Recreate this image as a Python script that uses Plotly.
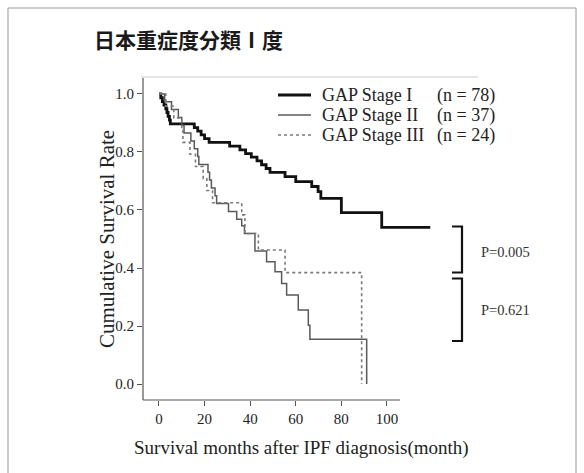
import plotly.graph_objects as go

# ---------------- data ----------------
stage1_t = [0, 0.8, 1.5, 2.2, 3.0, 3.5, 4.0, 4.6, 5.0, 15.5, 17, 18.5, 20, 22, 31, 35.5,
            38, 40.5, 43, 45, 47, 48.7, 55.3, 60, 67, 69.8, 71, 80, 97.7, 119]
stage1_s = [1.0, 0.987, 0.974, 0.962, 0.949, 0.936, 0.923, 0.910, 0.897, 0.884, 0.872, 0.859,
            0.846, 0.833, 0.820, 0.807, 0.794, 0.782, 0.769, 0.756, 0.743, 0.730, 0.715, 0.698,
            0.681, 0.663, 0.640, 0.591, 0.540, 0.540]

stage2_t = [0, 2.5, 5.5, 8.5, 10, 11, 14, 15.5, 17, 17.5, 21.5, 22.2, 23, 24.6, 25.3, 30.5,
            34.1, 36.3, 37.5, 42.1, 47.2, 50.9, 53.8, 56, 61.1, 65.5, 66.2, 91.1]
stage2_s = [1.0, 0.973, 0.946, 0.919, 0.892, 0.865, 0.838, 0.811, 0.784, 0.757, 0.730, 0.703,
            0.676, 0.649, 0.622, 0.595, 0.568, 0.546, 0.519, 0.459, 0.422, 0.387, 0.347, 0.307,
            0.255, 0.203, 0.154, 0.0]

stage3_t = [0, 3, 6.5, 10, 10.5, 13.6, 16, 19.4, 21, 23.5, 36.3, 37.7, 43.6, 55.3, 88.9]
stage3_s = [1.0, 0.958, 0.917, 0.875, 0.833, 0.792, 0.750, 0.708, 0.667, 0.625, 0.583, 0.519,
            0.462, 0.384, 0.0]

series_names = ["GAP Stage I", "GAP Stage II", "GAP Stage III"]
series_n = ["(n = 78)", "(n = 37)", "(n = 24)"]
p_values = ["P=0.005", "P=0.621"]
x_ticks = [0, 20, 40, 60, 80, 100]
y_ticks = [0.0, 0.2, 0.4, 0.6, 0.8, 1.0]

title_text = "日本重症度分類Ⅰ度"
x_title = "Survival months after IPF diagnosis(month)"
y_title = "Cumulative Survival Rate"

# ---------------- layout geometry ----------------
W, H = 584, 473
L, R, T, B = 143, 435, 78, 400
XR = [-7, -7 + (R - L) / 2.28]
YR = [-0.055, 1.055]

def px(xp):
    return (xp - L) / (R - L)

def py(yp):
    return (B - yp) / (B - T)

SERIF = "Liberation Serif, Times New Roman, serif"
styles = [dict(color="#111111", width=2.8, dash="solid"),
          dict(color="#5a5a5a", width=1.5, dash="solid"),
          dict(color="#7a7a7a", width=1.6, dash="3px,3px")]

fig = go.Figure()
for t, s, st, nm in zip([stage1_t, stage2_t, stage3_t], [stage1_s, stage2_s, stage3_s],
                        styles, series_names):
    fig.add_trace(go.Scatter(x=t, y=s, mode="lines", line=dict(shape="hv", **st),
                             name=nm, showlegend=False, hoverinfo="skip"))

shapes = []
ann = []

# axis lines
shapes.append(dict(type="line", xref="paper", yref="paper", x0=0, x1=0, y0=0, y1=1,
                   line=dict(color="#555555", width=1.2)))
shapes.append(dict(type="line", xref="paper", yref="paper", x0=0, x1=px(400), y0=0, y1=0,
                   line=dict(color="#555555", width=1.2)))
# faint top line
shapes.append(dict(type="line", xref="paper", yref="paper", x0=px(141), x1=px(478),
                   y0=py(77), y1=py(77), line=dict(color="#dddddd", width=1.5)))
# outer frame
shapes.append(dict(type="rect", xref="paper", yref="paper", x0=px(8), x1=px(576),
                   y0=py(480), y1=py(8), line=dict(color="#999999", width=1)))

# legend
leg_y = [95, 115, 135]
for i in range(3):
    shapes.append(dict(type="line", xref="paper", yref="paper", x0=px(278), x1=px(311),
                       y0=py(leg_y[i]), y1=py(leg_y[i]),
                       line=dict(color=styles[i]["color"], width=styles[i]["width"],
                                 dash=styles[i]["dash"])))
    ann.append(dict(x=px(320), y=py(leg_y[i]), xref="paper", yref="paper", text=series_names[i],
                    showarrow=False, xanchor="left", yanchor="middle",
                    font=dict(family=SERIF, size=18, color="#222222")))
    ann.append(dict(x=px(435), y=py(leg_y[i]), xref="paper", yref="paper", text=series_n[i],
                    showarrow=False, xanchor="left", yanchor="middle",
                    font=dict(family=SERIF, size=18, color="#222222")))

# brackets
for (y0, y1) in [(226.5, 272.5), (278.5, 341)]:
    shapes.append(dict(type="path", xref="paper", yref="paper",
                       path="M %f,%f L %f,%f L %f,%f L %f,%f" % (
                           px(452), py(y0), px(462), py(y0), px(462), py(y1), px(452), py(y1)),
                       line=dict(color="#111111", width=2.2)))
for txt, yy in zip(p_values, [252, 310]):
    ann.append(dict(x=px(479), y=py(yy), xref="paper", yref="paper", text=txt, showarrow=False,
                    xanchor="left", yanchor="middle",
                    font=dict(family=SERIF, size=14.5, color="#333333")))

# title
ann.append(dict(x=px(92), y=py(39), xref="paper", yref="paper", text="<b>" + title_text + "</b>",
                showarrow=False, xanchor="left", yanchor="middle",
                font=dict(family="Noto Sans CJK JP", size=21, color="#1a1a1a")))
# axis titles
ann.append(dict(x=px(301), y=py(448), xref="paper", yref="paper", text=x_title, showarrow=False,
                xanchor="center", yanchor="middle",
                font=dict(family=SERIF, size=19, color="#222222")))
ann.append(dict(x=px(107), y=py(239), xref="paper", yref="paper", text=y_title, showarrow=False,
                xanchor="center", yanchor="middle", textangle=-90,
                font=dict(family=SERIF, size=21, color="#222222")))

fig.update_layout(
    width=W, height=H,
    margin=dict(l=L, r=W - R, t=T, b=H - B, pad=0),
    paper_bgcolor="white", plot_bgcolor="white",
    showlegend=False,
    shapes=shapes, annotations=ann,
    xaxis=dict(range=XR, tickvals=x_ticks, ticktext=[str(v) for v in x_ticks],
               showgrid=False, zeroline=False, showline=False,
               ticks="outside", ticklen=5, tickwidth=1.2, tickcolor="#555555",
               tickfont=dict(family=SERIF, size=15, color="#222222")),
    yaxis=dict(range=YR, tickvals=y_ticks, ticktext=["%.1f" % v for v in y_ticks],
               showgrid=False, zeroline=False, showline=False,
               ticks="outside", ticklen=5, tickwidth=1.2, tickcolor="#555555",
               tickfont=dict(family=SERIF, size=15, color="#222222")),
)

fig.write_html("out.html")
